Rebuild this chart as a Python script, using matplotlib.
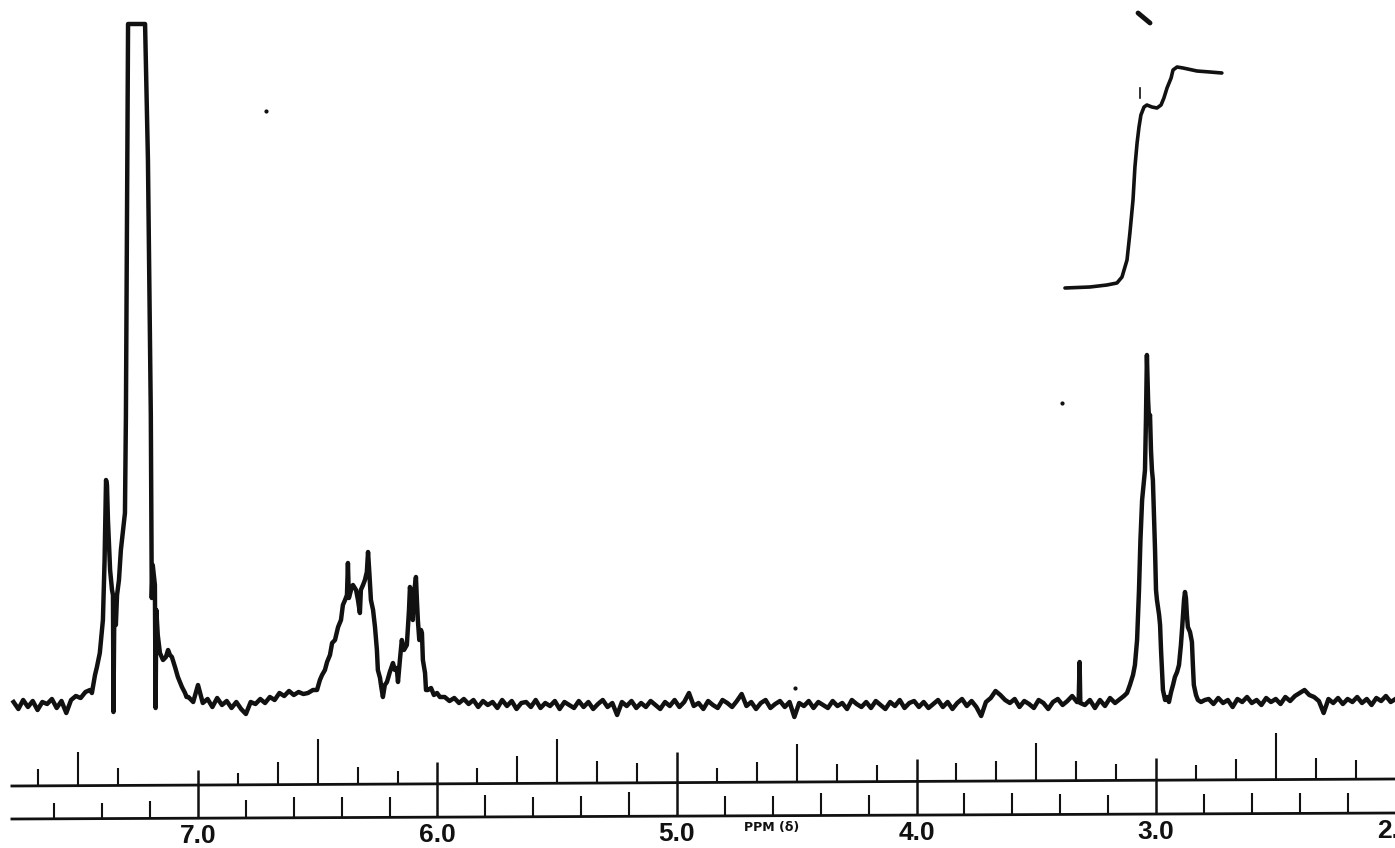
import numpy as np
import matplotlib
matplotlib.use('Agg')
import matplotlib.pyplot as plt

# 60 MHz proton NMR trace, heights in chart units (0 = baseline, 681 = pen limit)

# baseline pieces sampled every 0.02 ppm
base_a_ppm = np.linspace(7.77, 7.47, 16)
base_a_h = [3, -4, 5, -2, 4, -5, 3, 1, 6, -3, 4, -8, 5, 9, 7, 13]

base_c_ppm = np.linspace(7.04, 6.56, 25)
base_c_h = [8, 3, 20, 2, 6, -2, 7, 0, 4, -3, 3, -4, -9, 3, 1, 6, 2, 8, 5, 12,
            9, 14, 10, 13, 11]

base_e_ppm = np.linspace(5.97, 3.33, 133)
base_e_h = [8, 4, 7, 2, 6, 1, 5, -2, 4, 0,
            3, -3, 5, -1, 4, -4, 2, 3, -2, 5,
            -3, 2, -1, 4, -4, 3, 0, -3, 4, -2,
            3, -4, 1, 5, -2, 2, -10, 3, -1, 4,
            -3, 2, -2, 4, 0, -4, 3, -1, 5, -2,
            3, 12, -1, 2, -4, 4, 0, -3, 5, 2,
            -2, 4, 11, -1, 3, -4, 2, 5, -3, 1,
            4, -2, 3, -12, 2, -1, 4, -3, 3, 0,
            -3, 4, -1, 2, -4, 5, 1, -2, 3, -3,
            4, 0, -4, 3, -1, 5, -3, 2, 4, -2,
            3, -3, 1, 5, -2, 3, -4, 2, 6, -1,
            4, -2, -11, 3, 7, 14, 10, 5, 2, 6,
            -2, 4, 1, -3, 5, 2, -4, 3, 6, 0,
            4, 9, 3]

base_g_ppm = np.linspace(2.78, 2.00, 40)
base_g_h = [6, 1, 7, 2, 5, -2, 6, 3, 8, 2,
            5, 0, 7, 3, 6, 1, 8, 4, 9, 12,
            15, 10, 8, 4, -8, 6, 2, 7, 1, 6,
            3, 8, 2, 6, 0, 7, 4, 9, 3, 6]

# aromatic region 7.45 - 7.05 ppm (main peak runs off the chart)
arom_ppm = [7.451, 7.443, 7.430, 7.422, 7.410, 7.397, 7.390, 7.384, 7.380, 7.376,
            7.367, 7.359, 7.355, 7.353, 7.349, 7.343, 7.338, 7.330, 7.322, 7.313,
            7.305, 7.301, 7.296, 7.292, 7.280, 7.260, 7.240, 7.221, 7.209, 7.197,
            7.193, 7.189, 7.180, 7.177, 7.174, 7.168, 7.159, 7.146, 7.134, 7.125,
            7.117, 7.109, 7.096, 7.084, 7.067, 7.054, 7.048]
arom_h = [15, 12, 30, 38, 52, 85, 145, 225, 220, 185,
          135, 115, 110, -7, 105, 80, 110, 125, 155, 175,
          192, 288, 500, 681, 681, 681, 681, 681, 545, 290,
          107, 140, 120, -3, 95, 70, 52, 45, 48, 55,
          50, 48, 38, 28, 18, 12, 8]

# vinyl region 6.55 - 5.99 ppm
vinyl_ppm = [6.541, 6.520, 6.503, 6.491, 6.482, 6.470, 6.461, 6.449, 6.440, 6.428,
             6.415, 6.403, 6.395, 6.386, 6.378, 6.374, 6.370, 6.361, 6.353, 6.340,
             6.332, 6.324, 6.320, 6.311, 6.303, 6.295, 6.290, 6.284, 6.278, 6.269,
             6.261, 6.253, 6.249, 6.240, 6.236, 6.228, 6.220, 6.211, 6.199, 6.186,
             6.178, 6.170, 6.165, 6.157, 6.149, 6.140, 6.128, 6.119, 6.115, 6.109,
             6.103, 6.099, 6.090, 6.086, 6.082, 6.076, 6.069, 6.065, 6.061, 6.052,
             6.048, 6.040, 6.027, 6.015, 6.002, 5.990]
vinyl_h = [12, 15, 15, 25, 30, 35, 43, 50, 62, 65,
           78, 85, 100, 105, 110, 142, 107, 115, 120, 115,
           105, 92, 115, 120, 125, 133, 153, 130, 105, 95,
           78, 55, 35, 27, 20, 8, 20, 23, 33, 42,
           35, 37, 23, 45, 65, 55, 60, 95, 118, 105,
           85, 110, 128, 105, 85, 65, 75, 72, 45, 32,
           15, 15, 17, 10, 12, 8]

# aliphatic region 3.32 - 2.80 ppm
ali_ppm = [3.323, 3.319, 3.316, 3.297, 3.276, 3.255, 3.234, 3.213, 3.192, 3.171,
           3.150, 3.134, 3.121, 3.109, 3.096, 3.088, 3.079, 3.071, 3.065, 3.058,
           3.052, 3.046, 3.042, 3.038, 3.033, 3.029, 3.025, 3.021, 3.017, 3.013,
           3.008, 3.004, 3.000, 2.996, 2.987, 2.983, 2.979, 2.975, 2.971, 2.962,
           2.954, 2.946, 2.937, 2.929, 2.921, 2.912, 2.904, 2.896, 2.890, 2.883,
           2.879, 2.875, 2.871, 2.867, 2.858, 2.850, 2.846, 2.842, 2.833, 2.825,
           2.812, 2.796]
ali_h = [3, 43, 2, 0, 5, -3, 5, -1, 7, 2,
         6, 9, 12, 20, 30, 40, 65, 115, 165, 205,
         220, 235, 285, 350, 305, 285, 290, 255, 235, 225,
         185, 155, 115, 105, 90, 80, 55, 35, 15, 5,
         8, 3, 13, 20, 28, 33, 40, 60, 80, 105,
         113, 107, 90, 78, 73, 63, 40, 20, 10, 5,
         3, 5]

# integral trace over the 3 ppm multiplet
integ_ppm = [3.380, 3.276, 3.205, 3.163, 3.142, 3.121, 3.109, 3.096, 3.088, 3.079,
             3.071, 3.063, 3.050, 3.038, 3.017, 2.996, 2.979, 2.967, 2.954, 2.937,
             2.929, 2.912, 2.887, 2.829, 2.775, 2.725]
integ_h = [417, 418, 420, 422, 428, 445, 472, 505, 538, 562,
           578, 590, 598, 600, 598, 597, 600, 607, 617, 627,
           635, 638, 637, 634, 633, 632]

# chart paper scales: upper in Hz (60 MHz), lower in ppm
upper_hz = [460, 450, 440, 420, 410, 400, 390, 380, 370, 360, 350, 340, 330, 320,
            310, 300, 290, 280, 270, 260, 250, 240, 230, 220, 210, 200, 190, 180,
            170, 160, 150, 140, 130, 120]
upper_len = [17, 34, 17, 15, 12, 23, 45, 17, 13, 22, 16, 27, 44, 22,
             20, 31, 14, 20, 38, 18, 17, 22, 18, 20, 38, 20, 16, 22,
             15, 21, 47, 21, 19, 21]
lower_ppm = [7.6, 7.4, 7.2, 6.8, 6.6, 6.4, 6.2, 5.8, 5.6, 5.4, 5.2, 4.8, 4.6, 4.4,
             4.2, 3.8, 3.6, 3.4, 3.2, 2.8, 2.6, 2.4, 2.2]
lower_len = [16, 16, 17, 18, 21, 21, 20, 22, 20, 21, 24, 20, 20, 22,
             20, 22, 22, 20, 19, 20, 21, 20, 20]
major_ppm = [7.0, 6.0, 5.0, 4.0, 3.0, 2.0]
major_labels = ['7.0', '6.0', '5.0', '4.0', '3.0', '2.0']

ink = '#111111'

spec_ppm = np.concatenate([base_a_ppm, arom_ppm, base_c_ppm, vinyl_ppm,
                           base_e_ppm, ali_ppm, base_g_ppm])
spec_h = np.concatenate([base_a_h, arom_h, base_c_h, vinyl_h,
                         base_e_h, ali_h, base_g_h])

fig = plt.figure(figsize=(13.95, 8.48), dpi=100)
ax = fig.add_axes([0, 0, 1, 1])
ax.set_xlim(7.8267, 2.0021)
ax.set_ylim(-143, 705)
ax.axis('off')

ax.plot(spec_ppm, spec_h, color=ink, linewidth=3.2, solid_joinstyle='round')
ax.plot(integ_ppm, integ_h, color=ink, linewidth=2.6, solid_capstyle='round')

# pen marks near the integral
ax.plot([3.075, 3.025], [692, 682], color=ink, linewidth=3.5, solid_capstyle='round')
ax.plot([3.067, 3.067], [607, 617], color=ink, linewidth=1.2)
ax.plot([6.716, 3.393, 4.507], [594, 302, 17], 'o', color=ink, markersize=2)

# ruler lines are slightly skewed on the scan
ruler_ends = [7.777, 2.0021]
upper_line = [-81, -74]
lower_line = [-114, -108]


def line_at(ppm, ends):
    return np.interp(-np.asarray(ppm), [-ruler_ends[0], -ruler_ends[1]], ends)


ax.plot(ruler_ends, upper_line, color=ink, linewidth=2.0)
ax.plot(ruler_ends, lower_line, color=ink, linewidth=2.0)

up_ppm = np.array(upper_hz) / 60.0
up_base = line_at(up_ppm, upper_line)
for p, b, l in zip(up_ppm, up_base, upper_len):
    if abs(p - round(p)) < 1e-6:
        ax.vlines(p, line_at(p, lower_line), b + l, color=ink, linewidth=1.8)
    else:
        ax.vlines(p, b, b + l, color=ink, linewidth=1.5)

lo_base = line_at(lower_ppm, lower_line)
for p, b, l in zip(lower_ppm, lo_base, lower_len):
    ax.vlines(p, b, b + l, color=ink, linewidth=1.5)

for p, t in zip(major_ppm, major_labels):
    ax.text(p, line_at(p, lower_line) - 18, t, ha='center', va='center',
            fontsize=19, fontweight='bold', family='Liberation Sans', color=ink)

ax.text(4.603, -123, 'PPM (δ)', ha='center', va='center', fontsize=9,
        fontweight='bold', family='DejaVu Sans', color=ink)

fig.savefig('out.png', dpi=100, facecolor='white')
